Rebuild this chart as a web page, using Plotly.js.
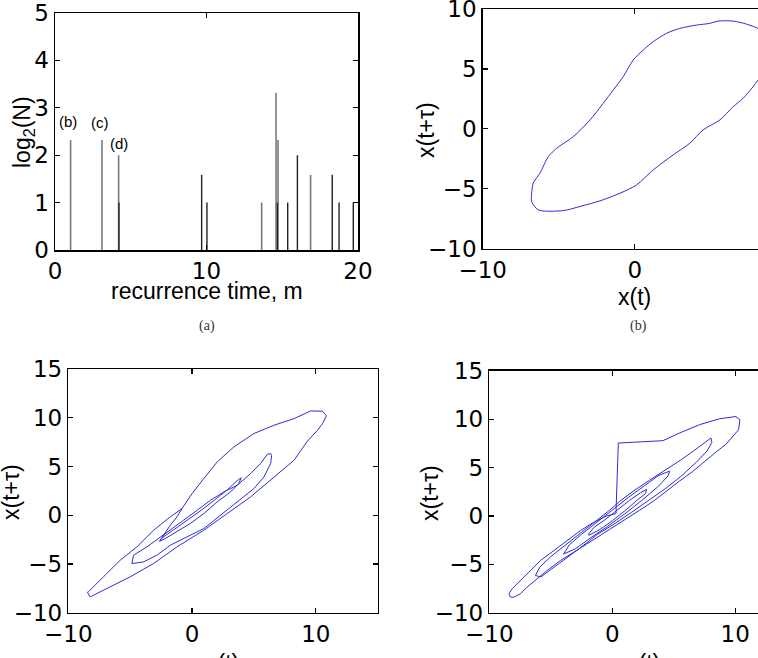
<!DOCTYPE html>
<html><head><meta charset="utf-8">
<script src="https://cdn.plot.ly/plotly-3.0.1.min.js"></script>
<style>body{margin:0;background:#fff}#p{width:758px;height:658px}</style>
</head><body><div id="p"></div>
<script>
// ---- panel (a): recurrence-time histogram (stems) ----
const recTimesGray = [1.03, 3.1, 4.2, 13.64, 14.59, 14.72, 16.87];
const log2NGray    = [2.32, 2.32, 2.0, 1.0, 3.32, 2.32, 1.585];
const recTimesBlack = [4.22, 9.68, 10.03, 14.68, 15.36, 16.0, 18.3, 18.75, 19.69];
const log2NBlack    = [1.0, 1.585, 1.0, 1.0, 1.0, 2.0, 1.585, 1.0, 1.0];
const peakLabels = ['(b)', '(c)', '(d)'];
const peakLabelX = [0.88, 3.0, 4.24];
const peakLabelY = [2.72, 2.68, 2.24];

// ---- panel (b) ----
const xb = [8.1, 7.33, 6.46, 5.47, 4.92, 4.05, 2.95, 2.08, 1.2, 0.55, -0.11, -0.77, -1.42, -2.08, -2.95, -4.05, -5.14, -5.69, -6.24, -6.68, -6.78, -6.78, -6.35, -4.71, -3.61, -2.3, -0.98, 0.11, 1.2, 2.51, 3.61, 4.48, 5.58, 6.46, 7.11, 7.77, 8.1, 8.8, 9.2, 9.0, 8.1];
const yb = [8.38, 8.74, 8.99, 8.99, 8.8, 8.66, 8.38, 7.97, 7.27, 6.58, 5.74, 4.35, 3.24, 2.13, 0.74, -0.65, -1.62, -2.32, -3.7, -4.53, -5.37, -6.07, -6.76, -6.82, -6.48, -6.01, -5.37, -4.68, -3.43, -2.18, -1.2, -0.09, 0.74, 1.85, 2.55, 3.52, 4.08, 5.3, 6.8, 7.8, 8.38];

// ---- panel (c) ----
const xcMid = [-4.86, -4.73, -3.65, -2.57, -1.76, -0.68, 0.41, 1.49, 2.57, 3.65, 4.73, 5.54, 6.08, 6.35, 6.43, 6.35, 5.81, 5.0, 3.65, 2.3, 0.95, -0.41, -1.76, -2.84, -3.92, -4.86];
const ycMid = [-4.96, -4.1, -3.25, -2.22, -1.54, -0.51, 0.51, 1.54, 2.39, 3.08, 4.27, 5.3, 6.26, 6.32, 6.15, 5.3, 3.93, 2.74, 1.37, 0, -1.37, -2.22, -3.08, -4.1, -4.79, -4.96];
const xcSmall = [-2.62, -2.43, -1.49, -0.41, 0.68, 1.76, 2.84, 3.65, 3.97, 3.78, 3.11, 2.03, 0.95, -0.14, -1.22, -2.16, -2.62, -1.76, -1.22, -0.81];
const ycSmall = [-2.67, -2.32, -1.5, -0.55, 0.45, 1.5, 2.6, 3.55, 3.83, 3.25, 2.39, 1.37, 0.17, -0.85, -1.71, -2.39, -2.67, -1.03, -0.17, 0.68];
const xcOuter = [-0.81, 0.0, 0.95, 2.03, 3.38, 5.0, 6.62, 8.24, 9.59, 10.54, 10.86, 10.54, 10.14, 9.32, 8.24, 6.35, 4.73, 2.84, 0.95, -1.22, -3.11, -5.0, -6.62, -8.24, -8.46, -8.38, -7.16, -5.81, -4.46, -3.11, -1.76, -0.81];
const ycOuter = [0.68, 2.22, 3.76, 5.47, 7.01, 8.38, 9.23, 9.91, 10.7, 10.67, 10.19, 9.4, 8.72, 7.6, 5.64, 3.59, 1.88, 0.17, -1.54, -3.25, -4.96, -6.32, -7.35, -8.38, -7.9, -7.86, -6.32, -4.62, -3.25, -1.54, -0.17, 0.68];

// ---- panel (d) ----
const xdOuter = [-8.27, -8.41, -8.14, -7.47, -6.66, -5.85, -4.77, -3.69, -2.61, -1.54, -0.46, 0.3, 0.49, 4.12, 5.47, 7.09, 8.71, 10.05, 10.38, 10.27, 9.78, 9.25, 8.44, 7.63, 6.55, 5.47, 4.39, 3.32, 2.24, 1.16, 0.08, -1.0, -2.08, -3.15, -4.23, -5.31, -6.12, -6.93, -7.47, -8.0, -8.27];
const ydOuter = [-8.39, -8.05, -7.53, -6.68, -5.65, -4.62, -3.6, -2.57, -1.54, -0.68, 0, 0.24, 7.53, 7.77, 8.56, 9.42, 10.03, 10.27, 9.93, 8.9, 8.2, 7.4, 6.6, 5.7, 4.6, 3.6, 2.5, 1.5, 0.6, -0.3, -1.2, -2.05, -2.91, -3.77, -4.62, -5.65, -6.51, -7.36, -8.05, -8.39, -8.39];
const xdLoop2 = [-6.25, -5.9, -5.0, -3.8, -2.6, -1.4, -0.3, 0.6, 1.7, 3.05, 4.4, 5.6, 6.6, 7.4, 8.03, 8.1, 7.7, 6.8, 5.6, 4.3, 3.0, 1.6, 0.2, -1.2, -2.6, -4.0, -5.1, -5.8, -6.25];
const ydLoop2 = [-6.16, -5.3, -4.2, -3.0, -1.8, -0.6, 0.5, 1.5, 2.55, 3.7, 4.8, 5.8, 6.7, 7.5, 8.05, 7.6, 6.7, 5.5, 4.1, 2.8, 1.6, 0.4, -0.8, -1.9, -3.3, -4.6, -5.7, -6.3, -6.16];
const xdLoop3 = [-3.96, -3.5, -2.5, -1.3, 0, 1.3, 2.6, 3.8, 4.66, 4.55, 3.7, 2.4, 1.0, -0.4, -1.8, -3.0, -3.96];
const ydLoop3 = [-3.94, -3.0, -1.9, -0.7, 0.6, 1.9, 3.1, 4.2, 4.62, 4.15, 3.0, 1.6, 0.2, -1.1, -2.3, -3.4, -3.94];
const xdLoop4 = [-1.94, -1.5, -0.6, 0.4, 1.4, 2.3, 2.78, 2.7, 2.0, 1.0, 0, -1.0, -1.9, -1.94];
const ydLoop4 = [-1.88, -1.2, -0.4, 0.6, 1.6, 2.4, 2.74, 2.3, 1.6, 0.5, -0.5, -1.4, -2.0, -1.88];

// helpers
function stems(xs, hs) {
  const X = [], Y = [];
  xs.forEach((t, i) => { X.push(t, t, null); Y.push(0, hs[i], null); });
  return {x: X, y: Y};
}
function join(list) {
  const X = [], Y = [];
  list.forEach((s, k) => { if (k) { X.push(null); Y.push(null); } X.push(...s[0]); Y.push(...s[1]); });
  return {x: X, y: Y};
}

const blue = 'rgb(45,45,215)';
const sg = stems(recTimesGray, log2NGray), sb = stems(recTimesBlack, log2NBlack);
const cJ = join([[xcMid, ycMid], [xcSmall, ycSmall], [xcOuter, ycOuter]]);
const dJ = join([[xdOuter, ydOuter], [xdLoop2, ydLoop2], [xdLoop3, ydLoop3], [xdLoop4, ydLoop4]]);

const traces = [
  {x: sg.x, y: sg.y, xaxis: 'x', yaxis: 'y', mode: 'lines', line: {color: '#7a7a7a', width: 1.6}, connectgaps: false},
  {x: sb.x, y: sb.y, xaxis: 'x', yaxis: 'y', mode: 'lines', line: {color: '#222', width: 1.4}, connectgaps: false},
  {x: xb, y: yb, xaxis: 'x2', yaxis: 'y2', mode: 'lines', line: {color: blue, width: 1, shape: 'spline', smoothing: 0.8}},
  {x: cJ.x, y: cJ.y, xaxis: 'x3', yaxis: 'y3', mode: 'lines', line: {color: blue, width: 1}, connectgaps: false},
  {x: dJ.x, y: dJ.y, xaxis: 'x4', yaxis: 'y4', mode: 'lines', line: {color: blue, width: 1}, connectgaps: false}
];

function ax(domain, range, dtick, mirror, anchor) {
  return {domain, range, dtick, tick0: 0, anchor, showline: true, linecolor: '#000', linewidth: 1.5,
    mirror: mirror, ticks: 'inside', ticklen: 5, tickwidth: 1.2, tickcolor: '#000',
    showgrid: false, zeroline: false, automargin: false, ticklabeloverflow: 'allow',
    ticklabelposition: 'outside',
    tickfont: {family: 'DejaVu Sans', size: 23, color: '#000'}, fixedrange: true};
}
const W = 758, H = 658;
const px = v => v / W, py = v => (H - v) / H;

const layout = {
  width: W, height: H, margin: {l: 0, r: 0, t: 0, b: 0, autoexpand: false}, showlegend: false,
  paper_bgcolor: '#fff', plot_bgcolor: '#fff',
  xaxis:  ax([px(55), px(358)], [0, 20], 10, 'ticks', 'y'),
  yaxis:  ax([py(250), py(13)], [0, 5], 1, 'ticks', 'x'),
  xaxis2: ax([px(482.7), 1], [-10, 8.09], 10, 'ticks', 'y2'),
  yaxis2: ax([py(248.7), py(9)], [-10, 10], 5, false, 'x2'),
  xaxis3: ax([px(68.3), px(377.7)], [-10, 15], 10, 'ticks', 'y3'),
  yaxis3: ax([py(612.7), py(369)], [-10, 15], 5, 'ticks', 'x3'),
  xaxis4: ax([px(489.3), 1], [-10, 11.85], 10, 'ticks', 'y4'),
  yaxis4: ax([py(612.7), py(370.7)], [-10, 15], 5, false, 'x4'),
  annotations: []
};

const labFont = {family: 'Liberation Sans', size: 23, color: '#000'};
function lab(text, x, y, rot) {
  layout.annotations.push({text, xref: 'paper', yref: 'paper', x: px(x), y: py(y), xanchor: 'center', yanchor: 'middle',
    showarrow: false, textangle: rot || 0, font: labFont});
}
lab('recurrence time, m', 207, 291);
lab('log<sub>2</sub>(N)', 24, 132, -90);
lab('x(t)', 634, 297);
lab('x(t+τ)', 426, 130, -90);
lab('x(t+τ)', 11, 492, -90);
lab('x(t)', 222, 663);
lab('x(t+τ)', 430, 493, -90);
lab('x(t)', 643, 663);

const capFont = {family: 'Liberation Serif', size: 14, color: '#333'};
[['(a)', 207, 326], ['(b)', 638, 326]].forEach(c => layout.annotations.push({text: c[0], xref: 'paper', yref: 'paper',
  x: px(c[1]), y: py(c[2]), xanchor: 'center', yanchor: 'middle', showarrow: false, font: capFont}));

peakLabels.forEach((t, i) => layout.annotations.push({text: t, xref: 'x', yref: 'y', x: peakLabelX[i], y: peakLabelY[i],
  xanchor: 'center', yanchor: 'middle', showarrow: false, font: {family: 'Liberation Sans', size: 15, color: '#000'}}));

Plotly.newPlot('p', traces, layout, {staticPlot: true});
</script></body></html>
